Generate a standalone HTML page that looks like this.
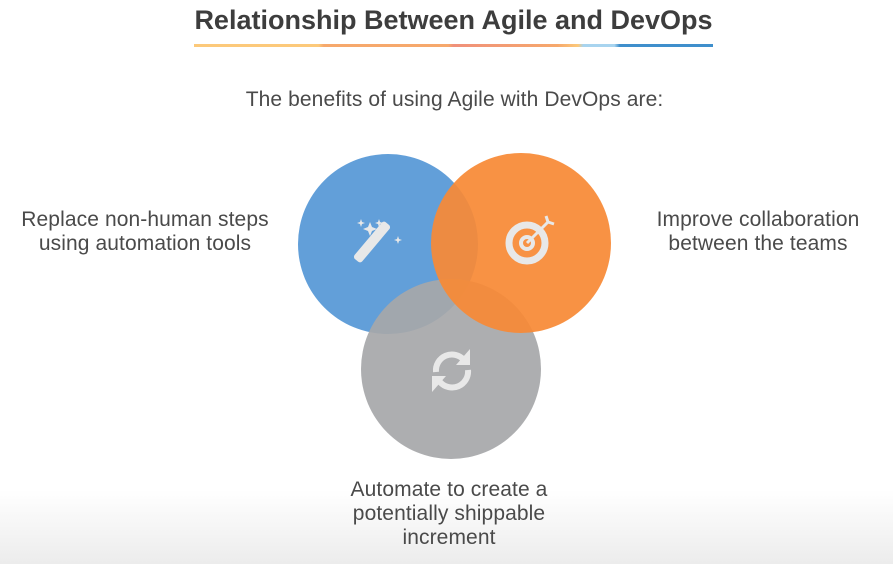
<!DOCTYPE html>
<html><head><style>
body{margin:0;width:893px;height:564px;overflow:hidden;background:linear-gradient(to bottom,#fff 0,#fff 490px,#ececec 564px);font-family:"Liberation Sans",sans-serif;color:#444;position:relative}
.t{position:absolute;font-size:21px;line-height:24px;text-align:center;color:#4a4a4a;letter-spacing:0.1px}
</style></head><body>
<div style="position:absolute;left:0;width:907px;top:5px;text-align:center;font-weight:bold;font-size:27px;color:#3d3d3d">Relationship Between Agile and DevOps</div>
<div style="position:absolute;left:194px;top:44px;width:519px;height:3px;background:linear-gradient(to right,#fcc97a 0,#fcc97a 24%,#f6a86c 25%,#f6a86c 49%,#f0907a 50%,#f6a86c 70%,#fcc97a 74%,#a8d4ef 75%,#a8d4ef 81%,#3f8fcc 82%,#3f8fcc 100%)"></div>
<div class="t" style="left:0;width:909px;top:88px">The benefits of using Agile with DevOps are:</div>
<div class="t" style="left:0;width:290px;top:208px">Replace non-human steps<br>using automation tools</div>
<div class="t" style="left:628px;width:260px;top:208px">Improve collaboration<br>between the teams</div>
<div class="t" style="left:319px;width:260px;top:478px">Automate to create a<br>potentially shippable<br>increment</div>
<svg width="893" height="564" style="position:absolute;left:0;top:0">
<circle cx="388" cy="244" r="90" fill="#629fd9"/>
<circle cx="451" cy="369" r="90" fill="#a6a7a9" fill-opacity="0.92"/>
<circle cx="521" cy="243" r="90" fill="#f78a36" fill-opacity="0.93"/>
<g fill="#e8e8e8">
<rect x="367" y="218" width="10" height="48" rx="3" transform="rotate(40 372 242)"/>
<path d="M370 222l2 5 5 2-5 2-2 5-2-5-5-2 5-2z"/>
<path d="M361 219l1 3 3 1-3 1-1 3-1-3-3-1 3-1z"/>
<path d="M379 219l1 3 3 1-3 1-1 3-1-3-3-1 3-1z"/>
<path d="M398 236l1 3 3 1-3 1-1 3-1-3-3-1 3-1z"/>
</g>
<g fill="none" stroke="#e8e8e8">
<circle cx="527" cy="243" r="18" stroke-width="7"/>
<circle cx="527" cy="243" r="6" stroke-width="4"/>
<path d="M527 243l22-22" stroke-width="3"/>
<path d="M546 216l2 6 6 2" stroke-width="3"/>
</g>
<g fill="none" stroke="#e8e8e8" stroke-width="6">
<path d="M436 372a16 16 0 0 1 28-12"/>
<path d="M468 370a16 16 0 0 1-28 12"/>
</g>
<path d="M470 349v16h-14z" fill="#e8e8e8"/>
<path d="M432 392v-16h14z" fill="#e8e8e8"/>
</svg>
</body></html>
